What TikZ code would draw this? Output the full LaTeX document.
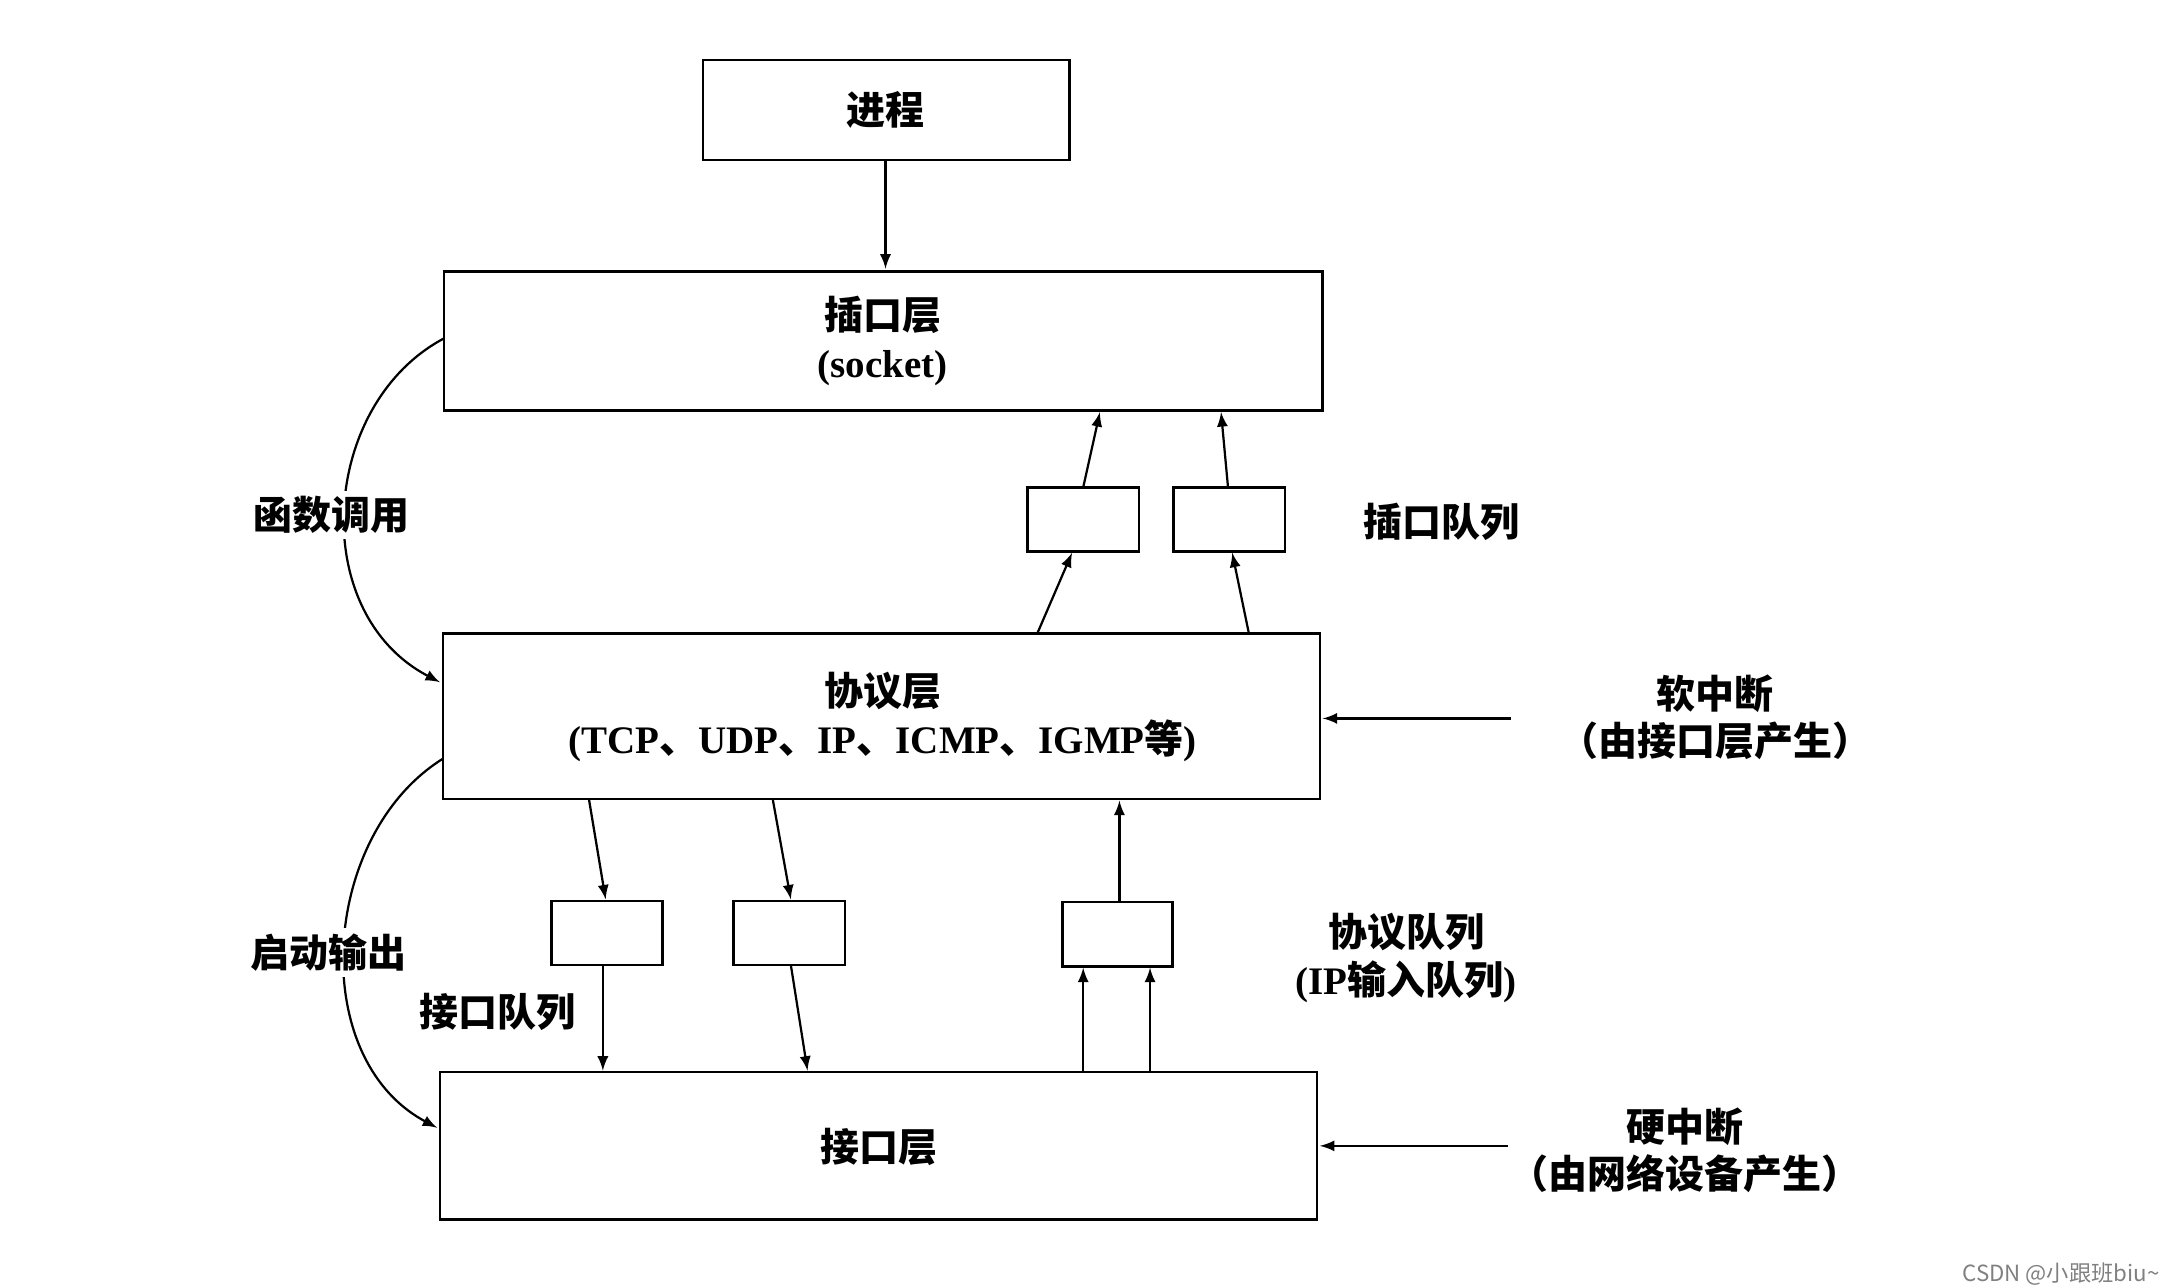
\documentclass[tikz,border=0pt]{standalone}
\usepackage{fontspec}
\setmainfont{Liberation Serif}
\newfontfamily\cjk{Noto Sans CJK SC}
\begin{document}
\begin{tikzpicture}[x=0.5pt,y=-0.5pt,
  bx/.style={draw,line width=0.9pt},
  ar/.style={-latex,line width=0.8pt},
  lb/.style={font=\fontsize{14}{17}\selectfont\bfseries\cjk,align=center,inner sep=0pt}]
\useasboundingbox (0,0) rectangle (1560,925);
\draw[bx] (505,43) rectangle (768,115); \node[lb] (p) at (636,79) {进程};
\draw[bx] (319,195) rectangle (950,295);
\node[lb] (s) at (634,245) {插口层\\{\normalfont\bfseries\fontsize{14}{17}\selectfont (socket)}};
\draw[bx] (738,350) rectangle (818,396);
\draw[bx] (843,350) rectangle (923,396);
\draw[bx] (318,455) rectangle (948,574);
\node[lb] (pr) at (634,515) {协议层\\{\rmfamily(TCP}、{\rmfamily UDP}、{\rmfamily IP}、{\rmfamily ICMP}、{\rmfamily IGMP}等{\rmfamily)}};
\draw[bx] (396,647) rectangle (476,693);
\draw[bx] (527,647) rectangle (607,693);
\draw[bx] (763,648) rectangle (842,694);
\draw[bx] (316,770) rectangle (946,876);
\node[lb] (i) at (631,824) {接口层};
\coordinate (a1) at (636,115); \coordinate (a2) at (636,193);
\draw[ar] (a1) -- (a2);
\draw[ar] (745,455) -- (770,397);
\draw[ar] (778,350) -- (790,296);
\draw[ar] (897,455) -- (885,397);
\draw[ar] (882,350) -- (877,296);
\draw[ar] (423,574) -- (435,646);
\draw[ar] (433,693) -- (433,769);
\draw[ar] (555,574) -- (568,646);
\draw[ar] (568,693) -- (580,769);
\draw[ar] (778,770) -- (778,695);
\draw[ar] (826,770) -- (826,695);
\draw[ar] (804,648) -- (804,575);
\draw[ar] (1085,516) -- (950,516);
\draw[ar] (1083,823) -- (948,823);
\draw[ar] (319,243) .. controls (230,290) and (220,440) .. (316,490);
\draw[ar] (318,545) .. controls (230,600) and (220,760) .. (314,810);
\node[lb,fill=white,inner sep=2pt] at (238,370) {函数调用};
\node[lb,fill=white,inner sep=2pt] at (236,684) {启动输出};
\node[lb] at (357,727) {接口队列};
\node[lb] at (1035,375) {插口队列};
\node[lb] at (1010,688) {协议队列\\{\rmfamily(IP}输入队列{\rmfamily)}};
\node[lb] at (1232,515) {软中断\\（由接口层产生）};
\node[lb] at (1210,826) {硬中断\\（由网络设备产生）};
\node[font=\fontsize{8}{9}\selectfont\cjk,text=gray,anchor=east] at (1558,915) {CSDN @小跟班biu\textasciitilde};
\end{tikzpicture}
\end{document}
